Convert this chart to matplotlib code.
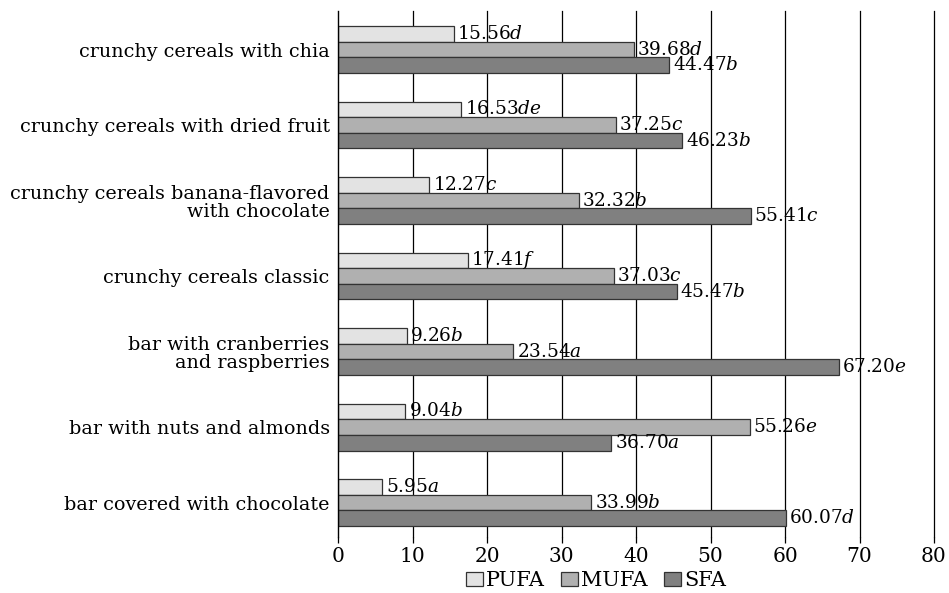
import matplotlib
matplotlib.use("Agg")
import matplotlib.pyplot as plt
import numpy as np
from matplotlib.patches import Patch

plt.rcParams['font.family'] = ['DejaVu Serif']
plt.rcParams['mathtext.fontset'] = 'dejavuserif'

categories = [
    "crunchy cereals with chia",
    "crunchy cereals with dried fruit",
    "crunchy cereals banana-flavored\nwith chocolate",
    "crunchy cereals classic",
    "bar with cranberries\nand raspberries",
    "bar with nuts and almonds",
    "bar covered with chocolate",
]
series_names = ["PUFA", "MUFA", "SFA"]
pufa = [15.56, 16.53, 12.27, 17.41, 9.26, 9.04, 5.95]
pufa_letters = ["d", "de", "c", "f", "b", "b", "a"]
mufa = [39.68, 37.25, 32.32, 37.03, 23.54, 55.26, 33.99]
mufa_letters = ["d", "c", "b", "c", "a", "e", "b"]
sfa = [44.47, 46.23, 55.41, 45.47, 67.20, 36.70, 60.07]
sfa_letters = ["b", "b", "c", "b", "e", "a", "d"]
xticks = [0, 10, 20, 30, 40, 50, 60, 70, 80]

colors = ["#e3e3e3", "#b0b0b0", "#808080"]
edge = "#333333"

fig = plt.figure(figsize=(9.49, 5.93), dpi=100)
ax = fig.add_axes([338/949, 1-537/593, (934-338)/949, (537-11)/593])

n = len(categories)
y = np.arange(n)
h = 0.207
data = [(pufa, pufa_letters), (mufa, mufa_letters), (sfa, sfa_letters)]
offsets = [-h, 0, h]
for (vals, lets), off, c, name in zip(data, offsets, colors, series_names):
    ax.barh(y + off, vals, height=h, color=c, edgecolor=edge, linewidth=0.9,
            zorder=3, label=name)
    for v, l, yy in zip(vals, lets, y + off):
        ax.annotate(f"{v:.2f}$\\mathit{{{l}}}$", xy=(v, yy), xytext=(2.5, 0),
                    textcoords="offset points", va="center", ha="left",
                    fontsize=13.3, zorder=4)

ax.set_ylim(6.456, -0.51)
ax.set_xlim(0, 80)
ax.set_yticks(y)
ax.set_yticklabels(categories, fontsize=13.8, linespacing=1.05)
ax.set_xticks(xticks)
ax.set_xticklabels([str(t) for t in xticks], fontsize=14.5)
ax.tick_params(axis='y', length=0, pad=6)
ax.tick_params(axis='x', length=4, width=0.9, color='black', pad=3)
for t in xticks[1:]:
    ax.axvline(t, color='black', linewidth=0.9, zorder=0, clip_on=False)
for s in ['top', 'right', 'bottom']:
    ax.spines[s].set_visible(False)
ax.spines['left'].set_linewidth(1.0)
ax.spines['left'].set_zorder(5)

handles = [Patch(facecolor=c, edgecolor=edge, linewidth=0.9) for c in colors]
fig.legend(handles, series_names, loc='center', bbox_to_anchor=(596/949, 1-581/593),
           ncol=3, frameon=False, fontsize=15, handlelength=0.8, handleheight=0.68,
           handletextpad=0.15, columnspacing=0.8, borderaxespad=0, borderpad=0)

fig.savefig("out.png", dpi=100)
